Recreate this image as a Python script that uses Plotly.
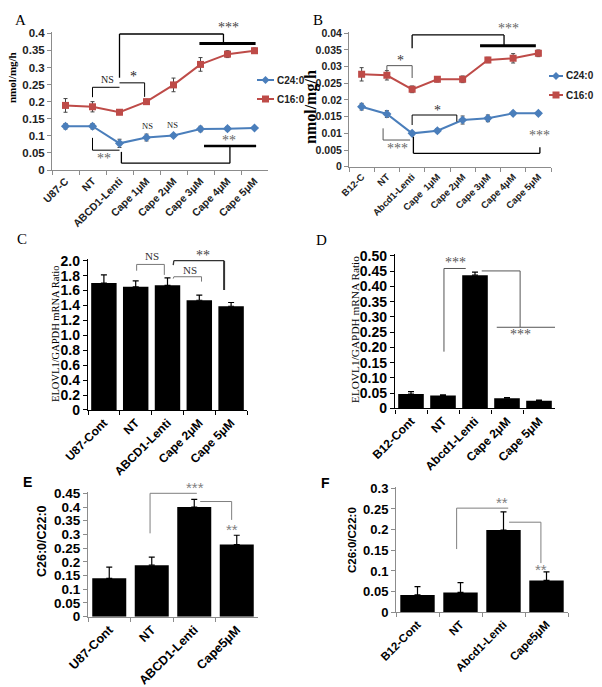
import plotly.graph_objects as go

W, H = 602, 687

# ---------------- data ----------------
a_cats = ["U87-C", "NT", "ABCD1-Lenti", "Cape 1μM", "Cape 2μM", "Cape 3μM", "Cape 4μM", "Cape 5μM"]
a_c24 = [0.128, 0.128, 0.078, 0.095, 0.101, 0.120, 0.121, 0.123]
a_c24_err = [0.008, 0.008, 0.012, 0.010, 0.004, 0.008, 0.006, 0.004]
a_c16 = [0.189, 0.185, 0.169, 0.200, 0.249, 0.309, 0.339, 0.349]
a_c16_err = [0.020, 0.015, 0.007, 0.007, 0.020, 0.020, 0.010, 0.008]
a_ticks = [0, 0.05, 0.1, 0.15, 0.2, 0.25, 0.3, 0.35, 0.4]
a_ticktext = ["0", "0.05", "0.1", "0.15", "0.2", "0.25", "0.3", "0.35", "0.4"]

b_cats = ["B12-C", "NT", "Abcd1-Lenti", "Cape  1μM", "Cape 2μM", "Cape 3μM", "Cape 4μM", "Cape 5μM"]
b_c24 = [0.0180, 0.0158, 0.0100, 0.0108, 0.0140, 0.0145, 0.0160, 0.0160]
b_c24_err = [0.0010, 0.0010, 0.0006, 0.0006, 0.0012, 0.0010, 0.0006, 0.0005]
b_c16 = [0.0277, 0.0274, 0.0232, 0.0262, 0.0262, 0.0320, 0.0325, 0.0340]
b_c16_err = [0.0020, 0.0014, 0.0010, 0.0008, 0.0010, 0.0008, 0.0014, 0.0010]
b_ticks = [0, 0.005, 0.01, 0.015, 0.02, 0.025, 0.03, 0.035, 0.04]
b_ticktext = ["0", "0.005", "0.01", "0.015", "0.02", "0.025", "0.03", "0.035", "0.04"]

c_cats = ["U87-Cont", "NT", "ABCD1-Lenti", "Cape 2μM", "Cape 5μM"]
c_vals = [1.70, 1.65, 1.67, 1.47, 1.39]
c_err = [0.11, 0.08, 0.10, 0.07, 0.05]
c_ticks = [0, 0.2, 0.4, 0.6, 0.8, 1.0, 1.2, 1.4, 1.6, 1.8, 2.0]
c_ticktext = ["0", "0.2", "0.4", "0.6", "0.8", "1.0", "1.2", "1.4", "1.6", "1.8", "2.0"]

d_cats = ["B12-Cont", "NT", "Abcd1-Lenti", "Cape 2μM", "Cape 5μM"]
d_vals = [0.047, 0.042, 0.437, 0.033, 0.025]
d_err = [0.008, 0.002, 0.010, 0.002, 0.002]
d_ticks = [0, 0.05, 0.10, 0.15, 0.20, 0.25, 0.30, 0.35, 0.40, 0.45, 0.50]
d_ticktext = ["0", "0.05", "0.10", "0.15", "0.20", "0.25", "0.30", "0.35", "0.40", "0.45", "0.50"]

e_cats = ["U87-Cont", "NT", "ABCD1-Lenti", "Cape5μM"]
e_vals = [0.140, 0.188, 0.400, 0.263]
e_err = [0.041, 0.029, 0.028, 0.034]
e_ticks = [0, 0.05, 0.1, 0.15, 0.2, 0.25, 0.3, 0.35, 0.4, 0.45]
e_ticktext = ["0", "0.05", "0.1", "0.15", "0.2", "0.25", "0.3", "0.35", "0.4", "0.45"]

f_cats = ["B12-Cont", "NT", "Abcd1-Lenti", "Cape5μM"]
f_vals = [0.042, 0.048, 0.199, 0.077]
f_err = [0.020, 0.024, 0.044, 0.021]
f_ticks = [0, 0.05, 0.1, 0.15, 0.2, 0.25, 0.3]
f_ticktext = ["0", "0.05", "0.1", "0.15", "0.2", "0.25", "0.3"]

series_names = ["C24:0", "C16:0"]

BLUE = "#4a7ebb"
RED = "#be4b48"
SANS = "Liberation Sans, Arial, sans-serif"
SERIF = "Liberation Serif, Times New Roman, serif"

fig = go.Figure()

GEOM = {}


def ydom(px0, pxtick, tickval, rmax):
    per = (px0 - pxtick) / tickval
    top = px0 - per * rmax
    return [1 - px0 / H, 1 - top / H]


def line_trace(cats, vals, err, name, color, symbol, xa, ya):
    fig.add_trace(go.Scatter(x=cats, y=vals, name=name, mode="lines+markers",
                             line=dict(color=color, width=2), marker=dict(symbol=symbol, size=7, color=color),
                             error_y=dict(type="data", array=err, color="#444", thickness=1, width=2),
                             xaxis=xa, yaxis=ya, showlegend=False))


line_trace(a_cats, a_c24, a_c24_err, series_names[0], BLUE, "diamond", "x", "y")
line_trace(a_cats, a_c16, a_c16_err, series_names[1], RED, "square", "x", "y")
line_trace(b_cats, b_c24, b_c24_err, series_names[0], BLUE, "diamond", "x2", "y2")
line_trace(b_cats, b_c16, b_c16_err, series_names[1], RED, "square", "x2", "y2")


def bar(cats, vals, err, xa, ya):
    fig.add_trace(go.Bar(x=cats, y=vals, marker=dict(color="black", line=dict(width=0)),
                         error_y=dict(type="data", array=err, arrayminus=[0] * len(err), symmetric=False,
                                      color="black", thickness=1.2, width=3),
                         xaxis=xa, yaxis=ya, showlegend=False))


bar(c_cats, c_vals, c_err, "x3", "y3")
bar(d_cats, d_vals, d_err, "x4", "y4")
bar(e_cats, e_vals, e_err, "x5", "y5")
bar(f_cats, f_vals, f_err, "x6", "y6")

GREY_AX = "#8c8c8c"


def axes(n, cats, xpx, y0px, ytpx, tval, rmax, ticks, ticktext, style, xfs, yfs, xcolor="#222"):
    GEOM[n] = (xpx, len(cats), y0px, (y0px - ytpx) / tval)
    lc = GREY_AX if style == "excel" else "black"
    lw = 1 if style == "excel" else 1.4
    xk = "xaxis" if n == 1 else f"xaxis{n}"
    yk = "yaxis" if n == 1 else f"yaxis{n}"
    fig.update_layout(**{
        xk: dict(domain=[xpx[0] / W, xpx[1] / W], anchor="y" if n == 1 else f"y{n}", type="category",
                 categoryorder="array", categoryarray=cats, automargin=False,
                 range=[-0.5, len(cats) - 0.5], showline=True, linecolor=lc, linewidth=lw,
                 ticks="outside", tickson="boundaries", ticklen=4, tickcolor=lc, tickwidth=1,
                 tickangle=-45, showgrid=False, zeroline=False,
                 tickfont=dict(family=SANS, size=xfs, color=xcolor, weight="bold")),
        yk: dict(domain=ydom(y0px, ytpx, tval, rmax), anchor="x" if n == 1 else f"x{n}",
                 range=[0, rmax], showline=True, linecolor=lc, linewidth=lw, automargin=False,
                 ticks="outside", ticklen=4, tickcolor=lc, tickwidth=1,
                 tickvals=ticks, ticktext=ticktext, showgrid=False, zeroline=False,
                 tickfont=dict(family=SANS, size=yfs, color=xcolor, weight="bold")),
    })


axes(1, a_cats, (52, 268), 170, 33.3, 0.4, 0.404, a_ticks, a_ticktext, "excel", 10.5, 11.5)
axes(2, b_cats, (349, 551), 166.7, 33.3, 0.04, 0.0404, b_ticks, b_ticktext, "excel", 9.5, 10.5)
axes(3, c_cats, (88, 247), 410, 260.7, 2.0, 2.02, c_ticks, c_ticktext, "prism", 12, 14, "black")
axes(4, d_cats, (395, 555), 408.3, 256, 0.5, 0.505, d_ticks, d_ticktext, "prism", 12, 14, "black")
axes(5, e_cats, (88, 258), 616.7, 493.3, 0.45, 0.455, e_ticks, e_ticktext, "excel", 12.5, 13.5, "black")
axes(6, f_cats, (396, 568), 612.3, 488.3, 0.3, 0.303, f_ticks, f_ticktext, "excel", 11.5, 13, "black")

shapes = []
annots = []


def to_paper(n, xi, yv):
    (x0, x1), nc, y0px, per = GEOM[n]
    step = (x1 - x0) / nc
    px = x0 + step * (xi + 0.5)
    py = y0px - per * yv
    return px / W, 1 - py / H


def seg(n, pts, width=1, color="black"):
    xr = "x" if n == 1 else f"x{n}"
    yr = "y" if n == 1 else f"y{n}"
    for (x0, y0), (x1, y1) in zip(pts[:-1], pts[1:]):
        shapes.append(dict(type="line", xref=xr, yref=yr, x0=x0, y0=y0, x1=x1, y1=y1,
                           line=dict(color=color, width=width)))


def txt(n, x, y, s, size=13, color="#444", family=SERIF):
    px, py = to_paper(n, x, y)
    annots.append(dict(xref="paper", yref="paper", x=px, y=py, text=s, showarrow=False,
                       font=dict(family=family, size=size, color=color), xanchor="center", yanchor="middle"))


# Panel A brackets
seg(1, [(2, 0.27), (2, 0.398), (5.85, 0.398), (5.85, 0.37)], 1.3)
seg(1, [(4.96, 0.37), (7.04, 0.37)], 3)
seg(1, [(1, 0.213), (1, 0.242), (2, 0.242)], 1)
seg(1, [(2, 0.255), (2.93, 0.255), (2.93, 0.214)], 1)
seg(1, [(1, 0.094), (1, 0.058), (2, 0.058)], 1)
seg(1, [(2.07, 0.053), (2.07, 0.02), (6.09, 0.02), (6.09, 0.07)], 1.3)
seg(1, [(5.13, 0.07), (7.06, 0.07)], 2.5)
txt(1, 1.57, 0.265, "NS", 10, "#222")
txt(1, 2.5, 0.274, "*", 14, "#222")
txt(1, 6.02, 0.418, "***", 14, "#444")
txt(1, 3.02, 0.128, "NS", 8.5, "#222")
txt(1, 3.98, 0.133, "NS", 8.5, "#222")
txt(1, 1.43, 0.034, "**", 14, "#666")
txt(1, 6.05, 0.086, "**", 14, "#666")

# Panel B brackets
seg(2, [(1, 0.029), (1, 0.0303), (2, 0.0303), (2, 0.0266)], 1, "#555")
seg(2, [(2, 0.0355), (2, 0.0395), (5.64, 0.0395), (5.64, 0.0363)], 1.3)
seg(2, [(4.69, 0.0363), (6.9, 0.0363)], 3)
seg(2, [(2, 0.0125), (2, 0.0155), (3.77, 0.0155), (3.77, 0.0135)], 1)
seg(2, [(0.85, 0.0115), (0.85, 0.008), (1.92, 0.008)], 1, "#555")
seg(2, [(2.05, 0.009), (2.05, 0.004), (7.06, 0.004), (7.06, 0.0058)], 1.3)
txt(2, 1.55, 0.0318, "*", 14, "#333")
txt(2, 5.8, 0.0413, "***", 14, "#666")
txt(2, 2.99, 0.0170, "*", 14, "#333")
txt(2, 1.44, 0.0055, "***", 14, "#666")
txt(2, 7.06, 0.0093, "***", 14, "#666")

# Panel C brackets
seg(3, [(1.03, 1.866), (1.03, 1.95), (1.9, 1.95), (1.9, 1.81)], 1, "#777")
seg(3, [(2.18, 1.76), (2.2, 1.785), (3.07, 1.785), (3.07, 1.72)], 1, "#777")
seg(3, [(2.18, 1.94), (2.2, 2.0), (3.78, 2.0)], 1.3, "#333")
seg(3, [(3.78, 2.0), (3.78, 1.607)], 2, "#333")
txt(3, 1.5, 2.06, "NS", 11, "#333")
txt(3, 2.7, 1.87, "NS", 11, "#333")
txt(3, 3.12, 2.07, "**", 14, "#444")

# Panel D brackets
seg(4, [(1.03, 0.186), (1.03, 0.459), (1.71, 0.459)], 1, "#555")
seg(4, [(2.21, 0.451), (3.41, 0.451), (3.41, 0.266)], 1, "#555")
seg(4, [(2.68, 0.266), (4.5, 0.266)], 1, "#555")
txt(4, 1.38, 0.479, "***", 14, "#555")
txt(4, 3.41, 0.241, "***", 14, "#555")

# Panel E brackets
seg(5, [(0.96, 0.304), (0.96, 0.45), (2.06, 0.45)], 1, "#7f7f7f")
seg(5, [(2.14, 0.42), (2.88, 0.42), (2.88, 0.353)], 1, "#7f7f7f")
txt(5, 2.02, 0.47, "***", 15, "#7f7f7f", SANS)
txt(5, 2.88, 0.318, "**", 15, "#7f7f7f", SANS)

# Panel F brackets
seg(6, [(0.91, 0.153), (0.91, 0.252), (2.11, 0.252)], 1, "#7f7f7f")
seg(6, [(2.13, 0.218), (2.87, 0.218), (2.87, 0.119)], 1, "#7f7f7f")
txt(6, 1.96, 0.266, "**", 15, "#7f7f7f", SANS)
txt(6, 2.87, 0.103, "**", 15, "#7f7f7f", SANS)


def P(xpx, ypx):
    return xpx / W, 1 - ypx / H


def paper_text(xpx, ypx, s, size, family, color="black", angle=0, weight="normal", xanchor="center"):
    x, y = P(xpx, ypx)
    annots.append(dict(xref="paper", yref="paper", x=x, y=y, text=s, showarrow=False,
                       textangle=angle, xanchor=xanchor, yanchor="middle",
                       font=dict(family=family, size=size, color=color, weight=weight)))


def legend_item(x0, x1, ypx, color, symbol, label):
    a, b = P(x0, ypx)
    c, _ = P(x1, ypx)
    shapes.append(dict(type="line", xref="paper", yref="paper", x0=a, y0=b, x1=c, y1=b,
                       line=dict(color=color, width=2)))
    cx = (x0 + x1) / 2
    if symbol == "square":
        p0 = P(cx - 3.5, ypx - 3.5)
        p1 = P(cx + 3.5, ypx + 3.5)
        shapes.append(dict(type="rect", xref="paper", yref="paper", x0=p0[0], y0=p0[1], x1=p1[0], y1=p1[1],
                           fillcolor=color, line=dict(width=0)))
    else:
        pts = [P(cx, ypx - 4), P(cx + 4, ypx), P(cx, ypx + 4), P(cx - 4, ypx)]
        path = "M " + " L ".join(f"{u:.5f},{v:.5f}" for u, v in pts) + " Z"
        shapes.append(dict(type="path", xref="paper", yref="paper", path=path,
                           fillcolor=color, line=dict(width=0)))
    paper_text(x1 + 1, ypx, label, 10, SANS, color="#222", weight="bold", xanchor="left")


legend_item(257, 274, 80, BLUE, "diamond", series_names[0])
legend_item(257, 274, 99, RED, "square", series_names[1])
legend_item(549, 563, 76, BLUE, "diamond", series_names[0])
legend_item(549, 563, 95, RED, "square", series_names[1])

# panel letters
paper_text(20, 20, "A", 15, SERIF)
paper_text(318, 20, "B", 15, SERIF)
paper_text(22, 239, "C", 15, SERIF)
paper_text(322, 240, "D", 15, SERIF)
paper_text(27, 482, "E", 14, SANS, weight="bold")
paper_text(325, 483, "F", 14, SANS, weight="bold")

# y-axis titles
paper_text(12, 78, "nmol/mg/h", 11, SERIF, angle=-90, weight="bold")
paper_text(311, 107, "nmol/mg/h", 16, SERIF, angle=-90, weight="bold")
paper_text(56, 334, "ELOVL1/GAPDH mRNA Ratio", 10.5, SERIF, angle=-90)
paper_text(355, 330, "ELOVL1/GAPDH mRNA Ratio", 11.3, SERIF, angle=-90)
paper_text(42, 541, "C26:0/C22:0", 12.5, SANS, angle=-90, weight="bold")
paper_text(352, 540, "C26:0/C22:0", 11.5, SANS, angle=-90, weight="bold")

fig.update_layout(
    width=W, height=H, margin=dict(l=0, r=0, t=0, b=0, autoexpand=False),
    paper_bgcolor="white", plot_bgcolor="white",
    shapes=shapes, annotations=annots,
    bargap=0.2, showlegend=False,
)

fig.write_html("out.html", config={"displayModeBar": False},
               post_script="document.body.style.margin='0';document.body.style.overflow='hidden';")
